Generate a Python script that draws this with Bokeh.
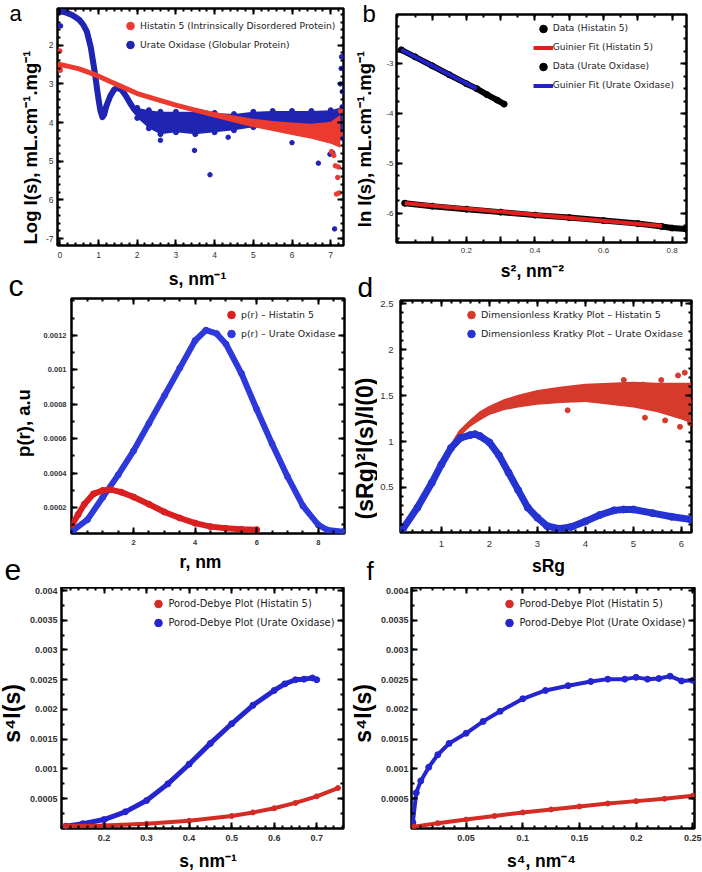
import math
from bokeh.plotting import figure
from bokeh.models import Range1d, FixedTicker, LinearAxis, Legend, LegendItem, Label
from bokeh.layouts import column, row
from bokeh.embed import file_html
from bokeh.resources import INLINE

# ---------------- data ----------------
# Panel a : log I(s) vs s
a_his_s = [0.0, 0.2, 0.5, 0.8, 1.0, 1.3, 1.6, 2.0, 2.5, 3.0, 3.5, 4.0, 4.5, 5.0, 5.5, 6.0, 6.5, 7.0, 7.25]
a_his_logI = [-2.50, -2.54, -2.61, -2.72, -2.80, -2.94, -3.07, -3.25, -3.40, -3.55, -3.68, -3.80, -3.91, -4.01, -4.09, -4.16, -4.22, -4.27, -4.30]
a_his_hi = [-2.47, -2.51, -2.58, -2.69, -2.77, -2.91, -3.04, -3.22, -3.37, -3.51, -3.63, -3.73, -3.82, -3.90, -3.96, -4.00, -4.03, -3.98, -3.80]
a_his_lo = [-2.53, -2.57, -2.64, -2.75, -2.83, -2.97, -3.10, -3.28, -3.43, -3.59, -3.73, -3.87, -4.00, -4.12, -4.22, -4.32, -4.42, -4.55, -4.65]
a_his_out_s = [0.0, 0.0, 0.01, 7.02, 7.08, 7.12, 7.15, 7.18, 7.2, 7.22, 7.25]
a_his_out_y = [-2.15, -2.6, -2.65, -4.75, -4.85, -5.12, -5.85, -5.42, -5.15, -5.82, -3.7]

a_uox_s = [0.03, 0.1, 0.2, 0.3, 0.4, 0.5, 0.6, 0.7, 0.8, 0.9, 1.0, 1.05, 1.1, 1.15, 1.2, 1.3, 1.4, 1.5, 1.6, 1.7, 1.8, 1.9, 2.0]
a_uox_logI = [-1.13, -1.14, -1.17, -1.21, -1.27, -1.34, -1.46, -1.65, -2.05, -2.68, -3.40, -3.70, -3.86, -3.78, -3.58, -3.32, -3.15, -3.10, -3.16, -3.30, -3.47, -3.63, -3.75]
a_uox_band_s = [2.0, 2.3, 2.6, 3.0, 3.5, 4.0, 4.5, 5.0, 5.5, 6.0, 6.5, 7.0, 7.3]
a_uox_band_hi = [-3.62, -3.68, -3.72, -3.72, -3.72, -3.75, -3.78, -3.72, -3.70, -3.70, -3.70, -3.68, -3.60]
a_uox_band_lo = [-3.88, -4.15, -4.30, -4.25, -4.30, -4.25, -4.20, -4.12, -4.12, -4.15, -4.18, -4.25, -4.40]
a_uox_out_s = [0.02, 2.6, 3.48, 3.88, 4.35, 6.0, 6.68, 6.98, 7.05, 7.1, 7.15, 7.25, 7.27, 7.28, 7.3]
a_uox_out_y = [-1.5, -4.46, -4.72, -5.35, -4.38, -4.52, -5.05, -4.82, -4.78, -6.75, -4.5, -3.0, -2.6, -2.3, -3.2]
a_xticks = [0, 1, 2, 3, 4, 5, 6, 7]
a_xtick_labels = ["0", "1", "2", "3", "4", "5", "6", "7"]
a_yticks = [-2, -3, -4, -5, -6, -7]
a_ytick_labels = ["2", "3", "4", "5", "6", "-7"]

# Panel b : Guinier
b_uox_s2 = [0.01, 0.05, 0.1, 0.15, 0.2, 0.23, 0.26, 0.29, 0.31]
b_uox_lnI = [-2.72, -2.86, -3.04, -3.22, -3.40, -3.50, -3.62, -3.73, -3.81]
b_uox_fit_s2 = [0.01, 0.23]
b_uox_fit_lnI = [-2.72, -3.50]
b_his_s2 = [0.02, 0.1, 0.2, 0.3, 0.4, 0.5, 0.6, 0.7, 0.77, 0.8, 0.84]
b_his_lnI = [-5.80, -5.86, -5.92, -5.98, -6.04, -6.09, -6.15, -6.21, -6.27, -6.30, -6.32]
b_his_fit_s2 = [0.02, 0.77]
b_his_fit_lnI = [-5.80, -6.26]
b_xticks = [0.1, 0.2, 0.3, 0.4, 0.5, 0.6, 0.7, 0.8]
b_xtick_labels = ["", "0.2", "", "0.4", "", "0.6", "", "0.8"]
b_yticks = [-3, -4, -5, -6]
b_ytick_labels = ["-3", "-4", "-5", "-6"]

# Panel c : p(r)
c_his_r = [0.0, 0.2, 0.4, 0.7, 1.0, 1.25, 1.6, 2.0, 2.5, 3.0, 3.5, 4.0, 4.5, 5.0, 5.5, 6.0]
c_his_p = [0.000100, 0.000160, 0.000220, 0.000280, 0.000300, 0.000305, 0.000290, 0.000262, 0.000220,
           0.000175, 0.000140, 0.000110, 0.000090, 0.000080, 0.000075, 0.000072]
c_uox_r = [0.05, 0.5, 1.0, 1.5, 2.0, 2.5, 3.0, 3.5, 4.0, 4.35, 4.7, 5.0, 5.5, 6.0, 6.5, 7.0, 7.5, 8.0, 8.3, 8.8]
c_uox_p = [0.00007, 0.00013, 0.00026, 0.00039, 0.00053, 0.00069, 0.00085, 0.00101, 0.00117, 0.00123,
           0.00121, 0.00115, 0.00098, 0.00077, 0.00057, 0.00038, 0.00021, 0.00010, 0.00007, 0.00006]
c_xticks = [2, 4, 6, 8]
c_xtick_labels = ["2", "4", "6", "8"]
c_yticks = [0.0002, 0.0004, 0.0006, 0.0008, 0.001, 0.0012]
c_ytick_labels = ["0.0002", "0.0004", "0.0006", "0.0008", "0.001", "0.0012"]

# Panel d : dimensionless Kratky
d_his_x = [0.2, 0.5, 0.8, 1.0, 1.2, 1.4, 1.6, 1.8, 2.0, 2.3, 2.6, 3.0, 3.5, 4.0, 4.5, 5.0, 5.5, 6.0, 6.2]
d_his_y = [0.05, 0.27, 0.55, 0.75, 0.93, 1.10, 1.20, 1.28, 1.34, 1.40, 1.44, 1.48, 1.51, 1.53, 1.52, 1.51, 1.48, 1.44, 1.42]
d_his_hi = [0.07, 0.29, 0.57, 0.77, 0.95, 1.13, 1.24, 1.33, 1.39, 1.46, 1.51, 1.56, 1.60, 1.63, 1.64, 1.65, 1.64, 1.64, 1.64]
d_his_lo = [0.03, 0.25, 0.53, 0.73, 0.91, 1.07, 1.16, 1.23, 1.29, 1.34, 1.37, 1.40, 1.42, 1.43, 1.40, 1.37, 1.32, 1.24, 1.20]
d_his_out_x = [3.63, 4.8, 5.2, 5.58, 5.93, 6.07, 5.24, 5.66, 5.97, 6.18]
d_his_out_y = [1.34, 1.67, 1.62, 1.67, 1.72, 1.75, 1.26, 1.23, 1.16, 1.20]
d_uox_x = [0.2, 0.5, 0.8, 1.0, 1.2, 1.4, 1.6, 1.7, 1.8, 2.0, 2.2, 2.4, 2.6, 2.8, 3.0, 3.2, 3.45, 3.7,
           4.0, 4.3, 4.6, 4.8, 5.0, 5.4, 5.8, 6.2]
d_uox_y = [0.05, 0.28, 0.55, 0.75, 0.93, 1.04, 1.07, 1.08, 1.06, 0.99, 0.85, 0.66, 0.47, 0.28, 0.17, 0.08,
           0.05, 0.07, 0.13, 0.20, 0.25, 0.26, 0.26, 0.22, 0.18, 0.15]
d_xticks = [1, 2, 3, 4, 5, 6]
d_xtick_labels = ["1", "2", "3", "4", "5", "6"]
d_yticks = [0.5, 1.0, 1.5, 2.0, 2.5]
d_ytick_labels = ["0.5", "1", "1.5", "2", "2.5"]

# Panel e : Porod-Debye vs s
e_his_s = [0.11, 0.2, 0.3, 0.4, 0.5, 0.55, 0.6, 0.65, 0.7, 0.75]
e_his_v = [0.00004, 0.00005, 0.00008, 0.00013, 0.00021, 0.00027, 0.00034, 0.00043, 0.00054, 0.00068]
e_uox_s = [0.11, 0.15, 0.2, 0.25, 0.3, 0.35, 0.4, 0.45, 0.5, 0.55, 0.6, 0.625, 0.65, 0.67, 0.69, 0.70]
e_uox_v = [0.00004, 0.00008, 0.00015, 0.00028, 0.00047, 0.00075, 0.00108, 0.00143, 0.00176, 0.00207,
           0.00232, 0.00243, 0.00250, 0.00251, 0.00253, 0.00250]
e_xticks = [0.2, 0.3, 0.4, 0.5, 0.6, 0.7]
e_xtick_labels = ["0.2", "0.3", "0.4", "0.5", "0.6", "0.7"]

# Panel f : Porod-Debye vs s^4
f_his_s4 = [0.004, 0.025, 0.05, 0.075, 0.1, 0.125, 0.15, 0.175, 0.2, 0.225, 0.25]
f_his_v = [0.00003, 0.00009, 0.00015, 0.00021, 0.00027, 0.00032, 0.00037, 0.00042, 0.00046, 0.00050, 0.00055]
f_uox_s4 = [0.003, 0.006, 0.01, 0.017, 0.025, 0.035, 0.05, 0.065, 0.08, 0.1, 0.12, 0.14, 0.16, 0.175,
            0.19, 0.2, 0.21, 0.22, 0.23, 0.24, 0.25]
f_uox_v = [0.00010, 0.00060, 0.00080, 0.00103, 0.00124, 0.00143, 0.00160, 0.00180, 0.00197, 0.00218,
           0.00232, 0.00240, 0.00247, 0.00251, 0.00251, 0.00254, 0.00251, 0.00252, 0.00256, 0.00248, 0.00249]
f_xticks = [0.05, 0.1, 0.15, 0.2, 0.25]
f_xtick_labels = ["0.05", "0.1", "0.15", "0.2", "0.25"]
ef_yticks = [0.0005, 0.001, 0.0015, 0.002, 0.0025, 0.003, 0.0035, 0.004]
ef_ytick_labels = ["0.0005", "0.001", "0.0015", "0.002", "0.0025", "0.003", "0.0035", "0.004"]

# ---------------- styling ----------------
TICK_FONT = "Liberation Sans"
LAB_FONT = "Liberation Sans"
LEG_FONT = "DejaVu Sans"
RED_A, BLUE_A = "#eb3a2f", "#1f24b3"
RED_B, BLUE_B = "#e02020", "#2222cc"
RED_C, BLUE_C = "#d91f1f", "#2d39db"
RED_D, BLUE_D = "#d63a2c", "#2433d1"
RED_E, BLUE_E = "#d42b25", "#2525cf"
XLAB = "17.5px"
YLAB = "18.5px"


def jskey(v):
    s = repr(float(v))
    if s.endswith(".0"):
        s = s[:-2]
    return s


def overrides(ticks, labels):
    d = {}
    for v, s in zip(ticks, labels):
        d[float(v)] = s
        d[jskey(v)] = s
    return d


def minor(lo, hi, step):
    n = int(round((hi - lo) / step))
    return [round(lo + i * step, 8) for i in range(n + 1)]


def make_panel(w, h, xr, yr, borders, xt, xtl, xm, yt, ytl, ym, tick_size, tick_style, xstand, ystand):
    l, r, t, b = borders
    p = figure(width=w, height=h, x_range=Range1d(*xr), y_range=Range1d(*yr),
               output_backend="svg", toolbar_location=None, frame_align=False,
               min_border_left=l, min_border_right=r, min_border_top=t, min_border_bottom=b)
    p.grid.visible = False
    p.outline_line_color = "black"
    p.outline_line_width = 2.5
    p.background_fill_color = "white"
    p.border_fill_color = "white"
    xtk = FixedTicker(ticks=xt, minor_ticks=xm)
    ytk = FixedTicker(ticks=yt, minor_ticks=ym)
    xa = p.xaxis[0]
    ya = p.yaxis[0]
    xa.ticker = xtk
    ya.ticker = ytk
    xa.major_label_overrides = overrides(xt, xtl)
    ya.major_label_overrides = overrides(yt, ytl)
    top = LinearAxis(ticker=xtk)
    right = LinearAxis(ticker=ytk)
    p.add_layout(top, "above")
    p.add_layout(right, "right")
    for ax in (xa, ya, top, right):
        ax.axis_line_color = None
        ax.major_tick_in = 6
        ax.major_tick_out = 0
        ax.minor_tick_in = 3
        ax.minor_tick_out = 0
        ax.major_tick_line_width = 2
        ax.minor_tick_line_width = 2
        ax.major_tick_line_color = "black"
        ax.minor_tick_line_color = "black"
        ax.major_label_text_font = TICK_FONT
        ax.major_label_text_font_size = tick_size
        ax.major_label_text_font_style = tick_style
        ax.major_label_text_color = "#333333"
    for ax in (top, right):
        ax.major_label_text_font_size = "0px"
        ax.major_label_text_alpha = 0
        ax.major_label_standoff = 0
    xa.major_label_standoff = xstand
    ya.major_label_standoff = ystand
    return p


def make_strip(w, h):
    s = figure(width=w, height=h, x_range=Range1d(0, 1), y_range=Range1d(0, 1),
               output_backend="svg", toolbar_location=None, frame_align=False,
               x_axis_location=None, y_axis_location=None,
               min_border_left=w - 1, min_border_right=0, min_border_top=h - 1, min_border_bottom=0)
    s.grid.visible = False
    s.outline_line_color = None
    s.background_fill_color = "white"
    s.border_fill_color = "white"
    return s


def add_legend(p, items, vx, vtop, frame_h, size):
    # (vx, vy) = legend bottom-left corner, in px from the frame's bottom-left corner
    item_h = 19
    leg_h = item_h * len(items)
    vy = frame_h - vtop - leg_h
    leg = Legend(items=[LegendItem(label=lab, renderers=[r]) for lab, r in items],
                 location=(vx, vy), margin=0, padding=0, spacing=0,
                 glyph_width=20, glyph_height=item_h, label_height=item_h, label_standoff=0,
                 border_line_color=None, background_fill_alpha=0,
                 label_text_font=LEG_FONT, label_text_font_size=size,
                 label_text_color="#222222")
    p.add_layout(leg)


def put_text(p, side, x, y, text, size, style="bold", angle=0.0, align="center"):
    p.add_layout(Label(x=x, y=y, x_units="canvas", y_units="canvas", text=text,
                       text_font=LAB_FONT, text_font_size=size, text_font_style=style,
                       angle=angle, text_align=align, text_baseline="middle",
                       text_color="black"), side)


LW = dict(line_cap="round", line_join="round")
VERT = math.pi / 2

# ================= left column =================
# ---- row a (y 0-262) ----
sa = make_strip(42, 262)
put_text(sa, "above", 9, 12.5, "a", "22px", "normal", align="left")
put_text(sa, "above", 29.7, 147, "Log I(s), mL.cm\u207b\u00b9.mg\u207b\u00b9", YLAB, angle=VERT)

pa = make_panel(309, 262, (-0.06, 7.33), (-7.18, -1.05), (13, 8, 8, 17),
                a_xticks, a_xtick_labels, minor(0, 7.2, 0.2),
                a_yticks, a_ytick_labels, minor(-7.0, -1.2, 0.2), "8.5px", "normal", 6, 4)
pa.varea(x=a_uox_band_s, y1=a_uox_band_lo, y2=a_uox_band_hi, color=BLUE_A)
pa.scatter(a_uox_band_s, a_uox_band_hi, size=5, color=BLUE_A)
pa.scatter(a_uox_band_s, a_uox_band_lo, size=5, color=BLUE_A)
pa.line(a_uox_s, a_uox_logI, line_width=6, color=BLUE_A, **LW)
ra_uox = pa.scatter(a_uox_out_s, a_uox_out_y, size=4.5, color=BLUE_A)
pa.varea(x=a_his_s, y1=a_his_lo, y2=a_his_hi, color=RED_A)
pa.line(a_his_s, a_his_logI, line_width=5, color=RED_A, **LW)
ra_his = pa.scatter(a_his_out_s, a_his_out_y, size=4.5, color=RED_A)
add_legend(pa, [("Histatin 5 (Intrinsically Disordered Protein)", ra_his),
                ("Urate Oxidase (Globular Protein)", ra_uox)], 63, 7.5, 237, "9.2px")

# ---- row c (y 262-587) ----
sc = make_strip(40, 325)
put_text(sc, "above", 8, 22.5, "c", "30px", "normal", align="left")
put_text(sc, "above", 23, 160.5, "p(r), a.u", YLAB, angle=VERT)
put_text(sc, "above", 4, 307.5, "e", "30px", "normal", align="left")

pc = make_panel(311, 325, (-0.016, 8.85), (0.00005, 0.001414), (30, 7, 36, 54),
                c_xticks, c_xtick_labels, minor(0.0, 8.5, 0.5),
                c_yticks, c_ytick_labels, minor(0.0001, 0.0014, 0.0001), "7.5px", "bold", 6, 5)
pc.line(c_uox_r, c_uox_p, line_width=6, color=BLUE_C, **LW)
rc_uox = pc.scatter(c_uox_r, c_uox_p, size=6, color=BLUE_C)
pc.line(c_his_r, c_his_p, line_width=6, color=RED_C, **LW)
rc_his = pc.scatter(c_his_r, c_his_p, size=6, color=RED_C)
add_legend(pc, [("p(r) \u2013 Histatin 5", rc_his), ("p(r) \u2013 Urate Oxidase", rc_uox)],
           150, 6.8, 235, "9.4px")
put_text(pc, "above", 157, 16, "s, nm\u207b\u00b9", XLAB)          # x-axis title of panel a
put_text(pc, "below", 160, 299.5, "r, nm", XLAB)

# ---- row e (y 587-872) ----
se = make_strip(26, 285)
put_text(se, "above", 11.3, 126, "s\u2074I(s)", "23px", angle=VERT)

pe = make_panel(325, 285, (0.100, 0.763), (0.0, 0.00405), (33, 8, 0, 44),
                e_xticks, e_xtick_labels, minor(0.1, 0.76, 0.02),
                ef_yticks, ef_ytick_labels, minor(0.00025, 0.004, 0.00025), "9px", "bold", 6, 4)
pe.line(e_uox_s, e_uox_v, line_width=5, color=BLUE_E, **LW)
re_uox = pe.scatter(e_uox_s, e_uox_v, size=6, color=BLUE_E)
pe.line(e_his_s, e_his_v, line_width=4, color=RED_E, **LW)
re_his = pe.scatter(e_his_s, e_his_v, size=5, color=RED_E)
add_legend(pe, [("Porod-Debye Plot (Histatin 5)", re_his), ("Porod-Debye Plot (Urate Oxidase)", re_uox)],
           87.4, 7.2, 241, "9.9px")
put_text(pe, "below", 181.5, 273.5, "s, nm\u207b\u00b9", XLAB)

# ================= right column =================
# ---- row b (y 0-257) ----
sb = make_strip(30, 257)
put_text(sb, "above", 11, 12.6, "b", "24px", "normal", align="left")
put_text(sb, "above", 13, 138.5, "ln I(s), mL.cm\u207b\u00b9.mg\u207b\u00b9", YLAB, angle=VERT)

pb = make_panel(321, 257, (-0.004, 0.842), (-6.59, -2.01), (15, 16, 14, 15),
                b_xticks, b_xtick_labels, minor(0.0, 0.85, 0.05),
                b_yticks, b_ytick_labels, minor(-6.5, -2.0, 0.25), "8px", "normal", 5, 3)
rb_uox = pb.scatter(b_uox_s2, b_uox_lnI, size=6, color="black")
pb.line(b_uox_s2, b_uox_lnI, line_width=6, color="black", **LW)
rb_his = pb.scatter(b_his_s2, b_his_lnI, size=6, color="black")
pb.line(b_his_s2, b_his_lnI, line_width=6, color="black", **LW)
rb_uox_fit = pb.line(b_uox_fit_s2, b_uox_fit_lnI, line_width=4, color=BLUE_B)
rb_his_fit = pb.line(b_his_fit_s2, b_his_fit_lnI, line_width=4, color=RED_B)
add_legend(pb, [("Data (Histatin 5)", rb_his), ("Guinier Fit (Histatin 5)", rb_his_fit),
                ("Data (Urate Oxidase)", rb_uox), ("Guinier Fit (Urate Oxidase)", rb_uox_fit)],
           136.7, 4.5, 228, "9.1px")

# ---- row d (y 257-587) ----
sd = make_strip(26, 330)
put_text(sd, "above", 6, 30.2, "d", "28px", "normal", align="left")
put_text(sd, "above", 13.8, 191, "(sRg)\u00b2I(s)/I(0)", "23px", angle=VERT)
put_text(sd, "above", 15, 313.9, "f", "26px", "normal", align="left")

pd_ = make_panel(325, 330, (0.148, 6.21), (0.009, 2.536), (22, 11, 43, 55),
                 d_xticks, d_xtick_labels, minor(0.2, 6.2, 0.2),
                 d_yticks, d_ytick_labels, minor(0.1, 2.5, 0.1), "9.5px", "normal", 8, 7)
pd_.varea(x=d_his_x, y1=d_his_lo, y2=d_his_hi, color=RED_D)
pd_.line(d_his_x, d_his_y, line_width=5, color=RED_D, **LW)
rd_his = pd_.scatter(d_his_out_x, d_his_out_y, size=5, color=RED_D)
pd_.line(d_uox_x, d_uox_y, line_width=7, color=BLUE_D, **LW)
rd_uox = pd_.scatter(d_uox_x, d_uox_y, size=7, color=BLUE_D)
add_legend(pd_, [("Dimensionless Kratky Plot \u2013 Histatin 5", rd_his),
                 ("Dimensionless Kratky Plot \u2013 Urate Oxidase", rd_uox)],
           61, 4.5, 232, "9.5px")
put_text(pd_, "above", 155, 13, "s\u00b2, nm\u207b\u00b2", XLAB)     # x-axis title of panel b
put_text(pd_, "below", 171, 308.5, "sRg", XLAB)

# ---- row f (y 587-872) ----
sf = make_strip(26, 285)
put_text(sf, "above", 11.3, 126, "s\u2074I(s)", "23px", angle=VERT)

pf = make_panel(325, 285, (0.0018, 0.2515), (0.0, 0.00405), (32, 8, 0, 44),
                f_xticks, f_xtick_labels, minor(0.0, 0.25, 0.01),
                ef_yticks, ef_ytick_labels, minor(0.00025, 0.004, 0.00025), "9px", "bold", 6, 3)
pf.line(f_uox_s4, f_uox_v, line_width=4, color=BLUE_E, **LW)
rf_uox = pf.scatter(f_uox_s4, f_uox_v, size=6, color=BLUE_E)
pf.line(f_his_s4, f_his_v, line_width=4, color=RED_E, **LW)
rf_his = pf.scatter(f_his_s4, f_his_v, size=5, color=RED_E)
add_legend(pf, [("Porod-Debye Plot (Histatin 5)", rf_his), ("Porod-Debye Plot (Urate Oxidase)", rf_uox)],
           88.4, 7.2, 241, "9.9px")
put_text(pf, "below", 164, 273, "s\u2074, nm\u207b\u2074", XLAB)

left_col = column(row(sa, pa), row(sc, pc), row(se, pe))
right_col = column(row(sb, pb), row(sd, pd_), row(sf, pf))
layout = row(left_col, right_col)
open("out.html", "w").write(file_html(layout, INLINE))
